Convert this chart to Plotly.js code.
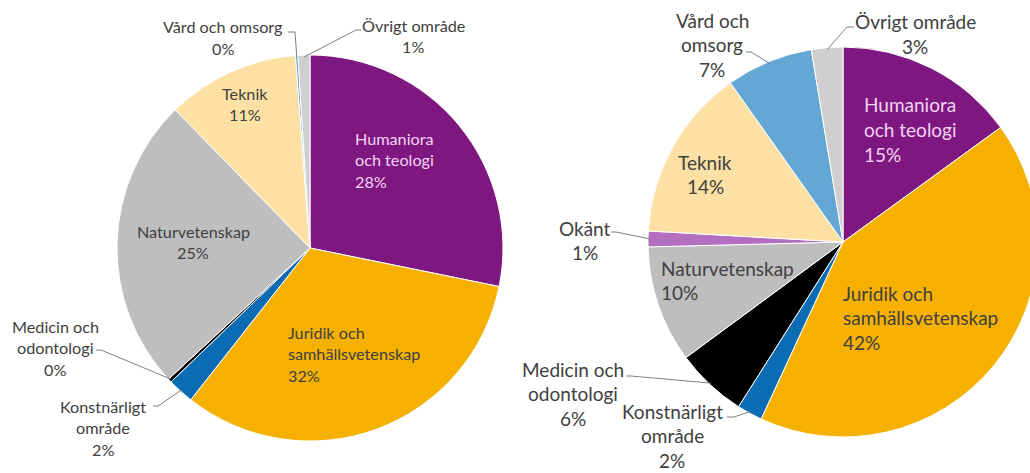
<!DOCTYPE html>
<html>
<head>
<meta charset="utf-8">
<script src="https://cdn.plot.ly/plotly-3.0.1.min.js"></script>
<style>
html,body{margin:0;padding:0;overflow:hidden;background:#fff;width:1030px;height:473px;}
#chart{width:1045px;height:473px;}
</style>
</head>
<body>
<div id="chart"></div>
<script>
// ---- Data ----
const leftLabels = ["Humaniora och teologi","Juridik och samhällsvetenskap","Konstnärligt område","Medicin och odontologi","Naturvetenskap","Teknik","Vård och omsorg","Övrigt område"];
const leftValues = [28.2, 32.4, 2.2, 0.3, 24.6, 11.1, 0.2, 1.0];

const rightLabels = ["Humaniora och teologi","Juridik och samhällsvetenskap","Konstnärligt område","Medicin och odontologi","Naturvetenskap","Okänt","Teknik","Vård och omsorg","Övrigt område"];
const rightValues = [15.0, 41.9, 2.1, 5.9, 9.7, 1.3, 14.3, 7.2, 2.6];

const colorMap = {
  "Humaniora och teologi": "#7E1880",
  "Juridik och samhällsvetenskap": "#F6B100",
  "Konstnärligt område": "#0B6CB4",
  "Medicin och odontologi": "#000000",
  "Naturvetenskap": "#BEBEBE",
  "Okänt": "#B46EC0",
  "Teknik": "#FDE1A4",
  "Vård och omsorg": "#64A6D4",
  "Övrigt område": "#D0CECE"
};

// ---- Layout geometry (pixels) ----
const W = 1045, H = 473;
const pies = [
  {labels: leftLabels, values: leftValues, cx: 310, cy: 248, r: 193, fs: 16.2, lh: 21.5},
  {labels: rightLabels, values: rightValues, cx: 843, cy: 242, r: 195, fs: 19, lh: 24.5}
];

// label text lines and placement (style)
// align: 'c' centered at x, 'l' left edge at x; y = first line centre
const leftText = {
  "Humaniora och teologi": {lines:["Humaniora","och teologi"], x:354, y:138, align:'l', color:'#F3D3F2'},
  "Juridik och samhällsvetenskap": {lines:["Juridik och","samhällsvetenskap"], x:287, y:332, align:'l'},
  "Konstnärligt område": {lines:["Konstnärligt","område"], x:103, y:406, align:'c', lead:[[153,406],[158,406]]},
  "Medicin och odontologi": {lines:["Medicin och","odontologi"], x:55, y:326, align:'c', lead:[[96,350],[101,350]]},
  "Naturvetenskap": {lines:["Naturvetenskap"], x:193, y:231, align:'c'},
  "Teknik": {lines:["Teknik"], x:245, y:93, align:'c'},
  "Vård och omsorg": {lines:["Vård och omsorg"], x:223, y:27, align:'c', lead:[[288,32],[295,32]]},
  "Övrigt område": {lines:["Övrigt område"], x:413, y:25, align:'c', lead:[[361,30],[356,30]]}
};
const rightText = {
  "Humaniora och teologi": {lines:["Humaniora","och teologi"], x:863, y:105, align:'l', color:'#F3D3F2'},
  "Juridik och samhällsvetenskap": {lines:["Juridik och","samhällsvetenskap"], x:842, y:293, align:'l'},
  "Konstnärligt område": {lines:["Konstnärligt","område"], x:672, y:411, align:'c', lead:[[727,417],[734,417]]},
  "Medicin och odontologi": {lines:["Medicin och","odontologi"], x:573, y:369, align:'c', lead:[[626,376],[631,376]]},
  "Naturvetenskap": {lines:["Naturvetenskap"], x:660, y:268, align:'l'},
  "Okänt": {lines:["Okänt"], x:585, y:228, align:'c', lead:[[611,232],[616,232]]},
  "Teknik": {lines:["Teknik"], x:705, y:162, align:'c'},
  "Vård och omsorg": {lines:["Vård och","omsorg"], x:712, y:20, align:'c', lead:[[746,52],[751,52]]},
  "Övrigt område": {lines:["Övrigt område"], x:915, y:22, align:'c', lead:[[854,27],[847,27]]}
};
const texts = [leftText, rightText];

const px = x => x / W;
const py = y => 1 - y / H;

const traces = [];
const annotations = [];
const shapes = [];

pies.forEach((p, i) => {
  traces.push({
    type: 'pie',
    labels: p.labels,
    values: p.values,
    sort: false,
    direction: 'clockwise',
    rotation: 0,
    textinfo: 'none',
    hoverinfo: 'label+percent',
    showlegend: false,
    marker: {colors: p.labels.map(l => colorMap[l]), line: {color: '#ffffff', width: 1}},
    domain: {x: [px(p.cx - p.r), px(p.cx + p.r)], y: [py(p.cy + p.r), py(p.cy - p.r)]}
  });
  const total = p.values.reduce((a, b) => a + b, 0);
  let cum = 0;
  p.labels.forEach((lab, k) => {
    const v = p.values[k];
    const mid = (cum + v / 2) / total * 2 * Math.PI;
    cum += v;
    const pct = Math.round(v / total * 100) + '%';
    const t = texts[i][lab];
    const lines = t.lines.concat([pct]);
    lines.forEach((ln, j) => {
      annotations.push({
        xref: 'paper', yref: 'paper',
        x: px(t.x), y: py(t.y + j * p.lh),
        xanchor: t.align === 'l' ? 'left' : 'center',
        yanchor: 'middle',
        borderpad: 0,
        text: ln, showarrow: false,
        font: {family: 'Lato, "Open Sans", sans-serif', size: p.fs, color: t.color || '#404040'}
      });
    });
    if (t.lead) {
      const ex = p.cx + p.r * 0.99 * Math.sin(mid);
      const ey = p.cy - p.r * 0.99 * Math.cos(mid);
      const pts = t.lead.concat([[ex, ey]]);
      const d = pts.map((q, m) => (m === 0 ? 'M ' : 'L ') + px(q[0]) + ' ' + py(q[1])).join(' ');
      shapes.push({type: 'path', xref: 'paper', yref: 'paper', path: d, line: {color: '#7f7f7f', width: 1}});
    }
  });
});

Plotly.newPlot('chart', traces, {
  width: W, height: H,
  margin: {l: 0, r: 0, t: 0, b: 0},
  paper_bgcolor: '#ffffff',
  showlegend: false,
  annotations: annotations,
  shapes: shapes
}, {displayModeBar: false, staticPlot: true});
</script>
</body>
</html>
